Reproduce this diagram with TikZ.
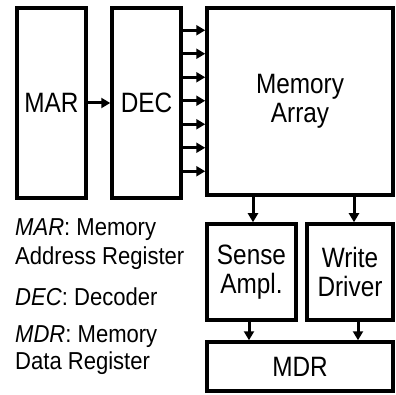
\documentclass[tikz,border=0pt]{standalone}
\usepackage{fontspec}
\setmainfont{Liberation Sans}
\newfontfamily\boxfont{Liberation Sans}[FakeStretch=0.87]
\newfontfamily\legfont{Liberation Sans}[FakeStretch=0.9]
\usetikzlibrary{arrows.meta}
\begin{document}
\begin{tikzpicture}[x=1pt,y=-1pt,>={Triangle[length=9pt,width=10pt]},
	blk/.style={draw,line width=3.5pt,inner sep=0pt,align=center,font=\boxfont\fontsize{28}{29}\selectfont},
	conn/.style={->,line width=3pt},
	legend/.style={anchor=west,align=left,inner sep=0pt,font=\legfont\fontsize{24.5}{28.5}\selectfont}]
			\useasboundingbox (0,0) rectangle (396,395);
			% blocks
			\node[blk,minimum width=69pt,minimum height=190pt] (mar) at (51.5,103) {MAR};
			\node[blk,minimum width=69pt,minimum height=190pt] (dec) at (146.5,103) {DEC};
			\node[blk,minimum width=186pt,minimum height=187pt] (mem) at (300,101.5) {Memory\\Array};
			\node[blk,minimum width=89pt,minimum height=96pt] (sa) at (251.5,272) {Sense\\Ampl.};
			\node[blk,minimum width=86pt,minimum height=96pt] (wd) at (350,272) {Write\\Driver};
			\node[blk,minimum width=186pt,minimum height=49pt] (mdr) at (300,366.5) {MDR};
			% connectors
			\draw[conn] (mar) -- (dec);
			\foreach \i in {0,...,6}
				\draw[conn] ([yshift=-(24+23.5*\i)]dec.north east) -- ([yshift=-(24+23.5*\i)]mem.north west);
			\draw[conn] ([xshift=1.5pt]sa.north |- mem.south) -- ([xshift=1.5pt]sa.north);
			\draw[conn] ([xshift=4pt]wd.north |- mem.south) -- ([xshift=4pt]wd.north);
			\draw[conn] ([xshift=-2.5pt]sa.south) -- ([xshift=-2.5pt]sa.south |- mdr.north);
			\draw[conn] ([xshift=8pt]wd.south) -- ([xshift=8pt]wd.south |- mdr.north);
			% legend
			\node[legend] (l1) at (15,244) {\textit{MAR}: Memory\\Address Register};
			\node[legend] (l2) at (15,297) {\textit{DEC}: Decoder};
			\node[legend,font=\legfont\fontsize{24.5}{27.5}\selectfont] (l3) at (15,350) {\textit{MDR}: Memory\\Data Register};
		\end{tikzpicture}
\end{document}
